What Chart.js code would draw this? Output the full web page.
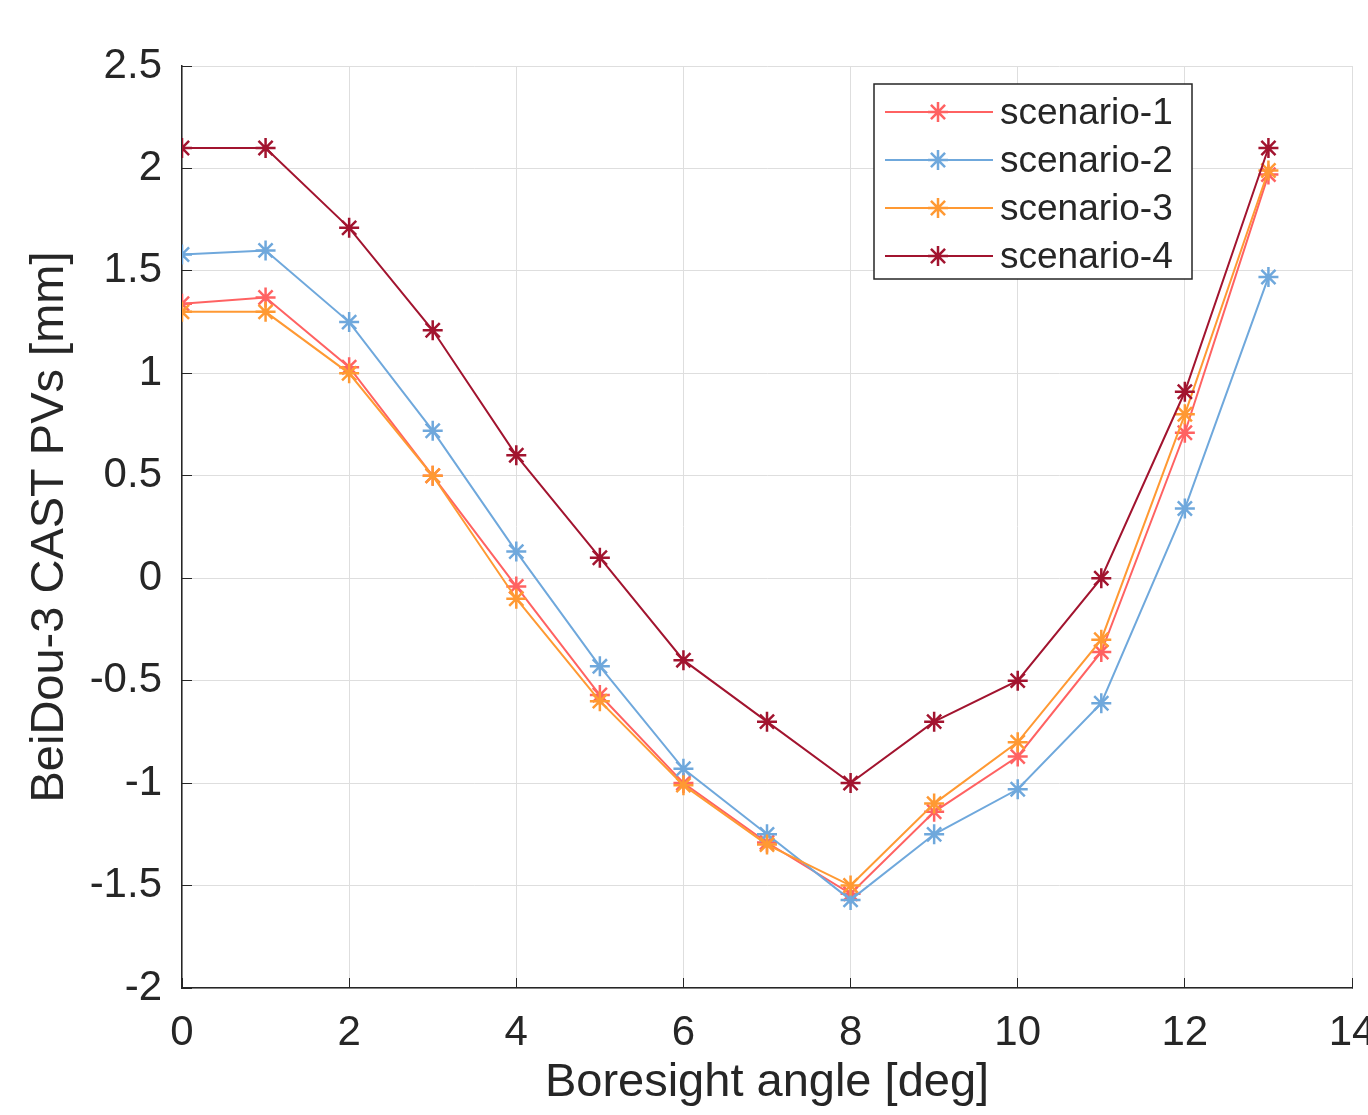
<!DOCTYPE html>
<html>
<head>
<meta charset="utf-8">
<script src="https://cdn.jsdelivr.net/npm/chart.js@4/dist/chart.umd.min.js"></script>
<style>
  html, body { margin: 0; padding: 0; background: #fff; }
  #wrap { width: 1368px; height: 1115px; }
</style>
</head>
<body>
<div id="wrap"><canvas id="pvChart" width="1368" height="1115"></canvas></div>
<script>
const angles = [0, 1, 2, 3, 4, 5, 6, 7, 8, 9, 10, 11, 12, 13];
const scenario1 = [1.34, 1.37, 1.03, 0.50, -0.04, -0.57, -1.00, -1.29, -1.54, -1.14, -0.87, -0.36, 0.71, 1.97];
const scenario2 = [1.58, 1.60, 1.25, 0.72, 0.13, -0.43, -0.93, -1.25, -1.57, -1.25, -1.03, -0.61, 0.34, 1.47];
const scenario3 = [1.30, 1.30, 1.00, 0.50, -0.10, -0.60, -1.01, -1.30, -1.50, -1.10, -0.80, -0.30, 0.80, 1.99];
const scenario4 = [2.10, 2.10, 1.71, 1.21, 0.60, 0.10, -0.40, -0.70, -1.00, -0.70, -0.50, 0.00, 0.91, 2.10];
const seriesNames = ['scenario-1', 'scenario-2', 'scenario-3', 'scenario-4'];
const seriesColors = ['#ff6262', '#6fa8dc', '#ff9933', '#a2142f'];

const font = 'Liberation Sans, Arial, Helvetica, sans-serif';

function makeSet(name, values, color, idx) {
    return {
        label: name,
        data: angles.map((a, i) => ({ x: a, y: values[i] })),
        borderColor: color,
        backgroundColor: color,
        borderWidth: 2,
        pointStyle: 'star',
        pointRadius: 10,
        pointBorderWidth: 2.5,
        pointBorderColor: color,
        pointBackgroundColor: color,
        tension: 0,
        order: 4 - idx
    };
}

// matlab style tick text: 2 instead of 2.0
const plainTick = (v) => String(Number(v.toFixed(2)));

// matlab style legend: box with line + star marker
const boxLegend = {
    id: 'boxLegend',
    afterDraw(chart) {
        const ctx = chart.ctx;
        const area = chart.chartArea;
        const w = 318, h = 195;
        const x0 = area.right - 160 - w;
        const y0 = area.top + 18;
        ctx.save();
        ctx.fillStyle = '#fff';
        ctx.fillRect(x0, y0, w, h);
        ctx.strokeStyle = '#262626';
        ctx.lineWidth = 1.5;
        ctx.strokeRect(x0, y0, w, h);
        ctx.font = '37px ' + font;
        ctx.textBaseline = 'middle';
        ctx.textAlign = 'left';
        chart.data.datasets.forEach((ds, i) => {
            const y = y0 + 28 + i * 48;
            ctx.strokeStyle = ds.borderColor;
            ctx.lineWidth = 2;
            ctx.beginPath();
            ctx.moveTo(x0 + 11, y);
            ctx.lineTo(x0 + 119, y);
            ctx.stroke();
            ctx.lineWidth = 2.5;
            Chart.helpers.drawPoint(ctx, { pointStyle: 'star', radius: 10, borderWidth: 2.5, rotation: 0 }, x0 + 64, y);
            ctx.fillStyle = '#262626';
            ctx.fillText(ds.label, x0 + 126, y + 2);
        });
        ctx.restore();
    }
};

const ctx = document.getElementById('pvChart').getContext('2d');
const myChart = new Chart(ctx, {
    type: 'line',
    data: {
        datasets: [
            makeSet(seriesNames[0], scenario1, seriesColors[0], 0),
            makeSet(seriesNames[1], scenario2, seriesColors[1], 1),
            makeSet(seriesNames[2], scenario3, seriesColors[2], 2),
            makeSet(seriesNames[3], scenario4, seriesColors[3], 3)
        ]
    },
    options: {
        responsive: false,
        animation: false,
        devicePixelRatio: 1,
        layout: { padding: { top: 66, right: 16, left: 0, bottom: 0 } },
        plugins: {
            legend: { display: false },
            tooltip: { enabled: false }
        },
        scales: {
            x: {
                type: 'linear',
                min: 0,
                max: 14,
                ticks: { stepSize: 2, color: '#262626', font: { family: font, size: 42 }, padding: 30, maxRotation: 0, callback: plainTick },
                grid: { color: '#dedede', lineWidth: 1, tickColor: '#262626', tickLength: -10 },
                border: { color: '#262626', width: 1.5 },
                title: { display: true, text: 'Boresight angle [deg]', color: '#262626', font: { family: font, size: 47 }, padding: { top: 0, bottom: 4 } },
                afterFit(scale) {
                    scale.height = 127;
                    scale.paddingLeft = 0;
                    scale.paddingRight = 0;
                }
            },
            y: {
                min: -2,
                max: 2.5,
                ticks: { stepSize: 0.5, color: '#262626', font: { family: font, size: 42 }, padding: 30, callback: plainTick },
                grid: { color: '#dedede', lineWidth: 1, tickColor: '#262626', tickLength: -10 },
                border: { color: '#262626', width: 1.5 },
                title: { display: true, text: 'BeiDou-3 CAST PVs [mm]', color: '#262626', font: { family: font, size: 47 }, padding: { top: 22, bottom: 0 } },
                afterFit(scale) {
                    scale.width = 182;
                    scale.paddingTop = 0;
                    scale.paddingBottom = 0;
                }
            }
        }
    },
    plugins: [boxLegend]
});
</script>
</body>
</html>
